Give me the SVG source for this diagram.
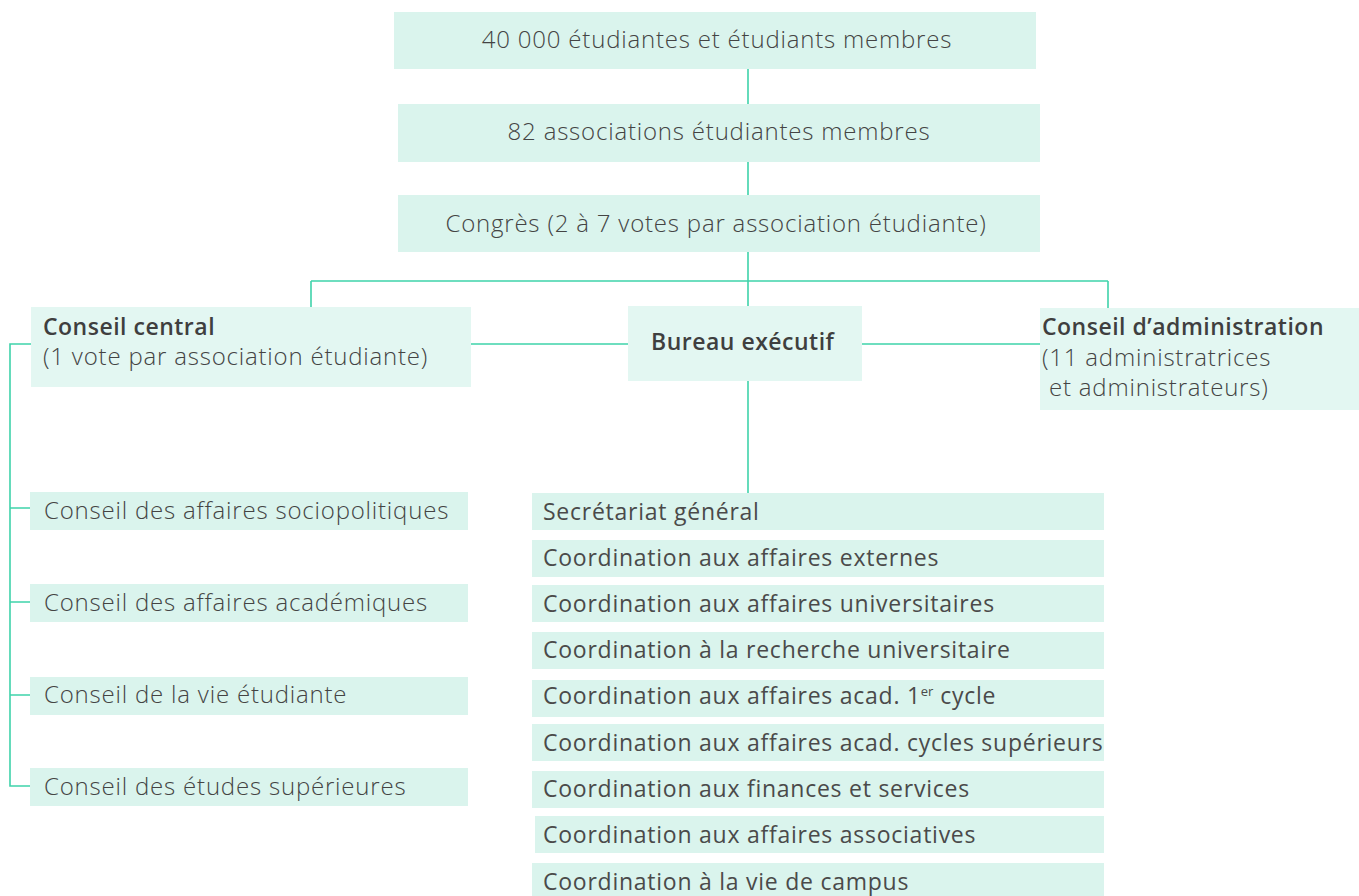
<svg xmlns="http://www.w3.org/2000/svg" width="1359" height="896" viewBox="0 0 1359 896">
<style>
.box{fill:#daf4ed}
.boxl{fill:#e3f7f2}
.t{font-family:"Open Sans",Lato,sans-serif;font-size:23px;letter-spacing:0.75px;fill:#4a4a4a}
.tl{font-family:"Open Sans",Lato,sans-serif;font-size:24px;letter-spacing:0.8px;fill:#444444;font-weight:300}
.b{font-family:"Open Sans",Lato,sans-serif;font-size:23px;letter-spacing:0.5px;fill:#3f3f3f;font-weight:600}
.c{stroke:#3fd3aa;stroke-width:1.6;fill:none}
</style>
<rect width="1359" height="896" fill="#ffffff"/>
<g id="connectors">
<path class="c" d="M748 69V104M748 162V195M748 252V281M311 281H1108M311 281V307M748 281V306M1108 281V308"/>
<path class="c" d="M471 344H628M862 344H1040"/>
<path class="c" d="M31 344H10V786H30M10 508H30M10 602H30M10 695H30"/>
<path class="c" d="M748 381V493"/>
</g>
<g id="n-etudiants"><rect class="box" x="394" y="12" width="642" height="57"/><text class="tl" x="717" y="48" text-anchor="middle">40 000 étudiantes et étudiants membres</text></g>
<g id="n-associations"><rect class="box" x="398" y="104" width="642" height="58"/><text class="tl" x="719" y="140" text-anchor="middle">82 associations étudiantes membres</text></g>
<g id="n-congres"><rect class="box" x="398" y="195" width="642" height="57"/><text class="tl" x="716" y="232" text-anchor="middle">Congrès (2 à 7 votes par association étudiante)</text></g>
<g id="n-conseil-central"><rect class="boxl" x="31" y="307" width="440" height="80"/><text class="b" x="43" y="335">Conseil central</text><text class="tl" x="43" y="365">(1 vote par association étudiante)</text></g>
<g id="n-bureau"><rect class="boxl" x="628" y="306" width="234" height="75"/><text class="b" x="651" y="350">Bureau exécutif</text></g>
<g id="n-conseil-admin"><rect class="boxl" x="1040" y="308" width="319" height="102"/><text class="b" x="1042" y="335">Conseil d’administration</text><text class="tl" x="1042" y="366">(11 administratrices</text><text class="tl" x="1049" y="396">et administrateurs)</text></g>
<g id="n-sociopol"><rect class="box" x="30" y="492" width="438" height="38"/><text class="tl" x="44" y="519">Conseil des affaires sociopolitiques</text></g>
<g id="n-academ"><rect class="box" x="30" y="584" width="438" height="38"/><text class="tl" x="44" y="611">Conseil des affaires académiques</text></g>
<g id="n-vie"><rect class="box" x="30" y="677" width="438" height="38"/><text class="tl" x="44" y="703">Conseil de la vie étudiante</text></g>
<g id="n-etudes"><rect class="box" x="30" y="768" width="438" height="38"/><text class="tl" x="44" y="795">Conseil des études supérieures</text></g>
<g id="n-sg"><rect class="box" x="532" y="493" width="572" height="37"/><text class="t" x="543" y="520">Secrétariat général</text></g>
<g id="n-ext"><rect class="box" x="532" y="540" width="572" height="37"/><text class="t" x="543" y="566">Coordination aux affaires externes</text></g>
<g id="n-univ"><rect class="box" x="532" y="585" width="572" height="37"/><text class="t" x="543" y="612">Coordination aux affaires universitaires</text></g>
<g id="n-rech"><rect class="box" x="532" y="632" width="572" height="37"/><text class="t" x="543" y="658">Coordination à la recherche universitaire</text></g>
<g id="n-1cycle"><rect class="box" x="532" y="680" width="572" height="37"/><text class="t" x="543" y="704">Coordination aux affaires acad. 1<tspan font-size="13" letter-spacing="0" dy="-8">er</tspan><tspan dy="8"> cycle</tspan></text></g>
<g id="n-cycsup"><rect class="box" x="532" y="724" width="572" height="37"/><text class="t" x="543" y="751">Coordination aux affaires acad. cycles supérieurs</text></g>
<g id="n-fin"><rect class="box" x="532" y="771" width="572" height="37"/><text class="t" x="543" y="797">Coordination aux finances et services</text></g>
<g id="n-assoc"><rect class="box" x="535" y="816" width="569" height="37"/><text class="t" x="543" y="843">Coordination aux affaires associatives</text></g>
<g id="n-campus"><rect class="box" x="532" y="863" width="572" height="33"/><text class="t" x="543" y="890">Coordination à la vie de campus</text></g>
</svg>
